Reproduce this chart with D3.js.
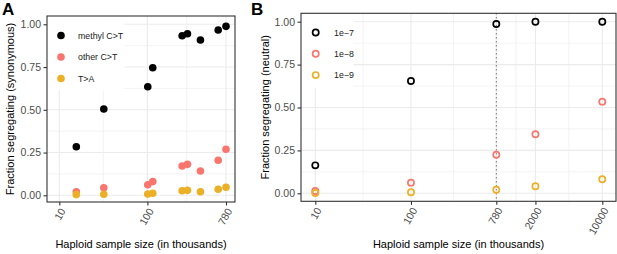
<!DOCTYPE html>
<html>
<head>
<meta charset="utf-8">
<script src="https://cdn.jsdelivr.net/npm/d3@7"></script>
<style>
  body { margin: 0; background: #fff; }
  svg { font-family: "Liberation Sans", Arial, sans-serif; }
</style>
</head>
<body>
<div id="chart"></div>
<script>
// panel A: synonymous sites in gnomAD-like sample sizes
const sizesA = [15.6, 32, 101, 115, 248, 285, 400, 636, 780]
const methylCT = [0.284, 0.505, 0.635, 0.746, 0.933, 0.945, 0.908, 0.967, 0.988]
const otherCT = [0.021, 0.044, 0.062, 0.080, 0.171, 0.181, 0.142, 0.205, 0.269]
const tToA = [0.004, 0.006, 0.008, 0.012, 0.027, 0.029, 0.021, 0.035, 0.047]
const seriesA = ["methyl C>T", "other C>T", "T>A"]
const xTicksA = [10, 100, 780]

// panel B: neutral simulations by mutation rate
const sizesB = [10, 100, 780, 2000, 10000]
const mu1e7 = [0.163, 0.654, 0.987, 1.0, 1.0]
const mu1e8 = [0.013, 0.062, 0.225, 0.344, 0.534]
const mu1e9 = [0.002, 0.006, 0.021, 0.041, 0.082]
const seriesB = ["1e\u22127", "1e\u22128", "1e\u22129"]
const xTicksB = [10, 100, 780, 2000, 10000]

const yTicks = [0, 0.25, 0.5, 0.75, 1]
const colors = ["#000000", "#F8766D", "#EBB026"]

const svg = d3.select("#chart").append("svg")
  .attr("width", 617)
  .attr("height", 254)

function midLog(a, b) { return Math.sqrt(a * b) }

function drawPanel(opt) {
  const p = opt.panel
  const g = svg.append("g")

  x = d3.scaleLog().domain(opt.xDomain).range(opt.xRange)
  y = d3.scaleLinear().domain([0, 1]).range(opt.yRange)

  // panel background + grid
  g.append("rect")
    .attr("x", p.left).attr("y", p.top)
    .attr("width", p.right - p.left).attr("height", p.bottom - p.top)
    .attr("fill", "#fff")

  const minorX = d3.pairs(opt.xTicks).map(d => midLog(d[0], d[1]))
  const minorY = d3.pairs(yTicks).map(d => (d[0] + d[1]) / 2)

  g.selectAll(".minx").data(minorX).enter().append("line")
    .attr("x1", d => x(d)).attr("x2", d => x(d))
    .attr("y1", p.top).attr("y2", p.bottom)
    .attr("stroke", "#EBEBEB").attr("stroke-width", 0.6)
  g.selectAll(".miny").data(minorY).enter().append("line")
    .attr("x1", p.left).attr("x2", p.right)
    .attr("y1", d => y(d)).attr("y2", d => y(d))
    .attr("stroke", "#EBEBEB").attr("stroke-width", 0.6)
  g.selectAll(".majx").data(opt.xTicks).enter().append("line")
    .attr("x1", d => x(d)).attr("x2", d => x(d))
    .attr("y1", p.top).attr("y2", p.bottom)
    .attr("stroke", "#EBEBEB").attr("stroke-width", 1.1)
  g.selectAll(".majy").data(yTicks).enter().append("line")
    .attr("x1", p.left).attr("x2", p.right)
    .attr("y1", d => y(d)).attr("y2", d => y(d))
    .attr("stroke", "#EBEBEB").attr("stroke-width", 1.1)

  if (opt.vline) {
    g.append("line")
      .attr("x1", x(opt.vline)).attr("x2", x(opt.vline))
      .attr("y1", p.top).attr("y2", p.bottom)
      .attr("stroke", "#444").attr("stroke-width", 1)
      .attr("stroke-dasharray", "1,3")
  }

  // legend box sits over the grid
  const lg = opt.legend
  g.append("rect")
    .attr("x", p.left + 0.5).attr("y", p.top + 0.5)
    .attr("width", lg.w).attr("height", lg.h)
    .attr("fill", "#fff")

  // points
  opt.series.forEach((vals, i) => {
    const pts = g.append("g").selectAll("circle")
      .data(vals.map((v, j) => ({x: opt.sizes[j], y: v})))
      .enter().append("circle")
      .attr("cx", d => x(d.x))
      .attr("cy", d => y(d.y))
    if (opt.hollow) {
      pts.attr("r", 3.1).attr("fill", "none")
        .attr("stroke", colors[i]).attr("stroke-width", 1.7)
    } else {
      pts.attr("r", 3.8).attr("fill", colors[i])
    }
  })

  // legend entries
  opt.names.forEach((name, i) => {
    const ly = lg.y0 + i * lg.step
    const c = g.append("circle").attr("cx", lg.kx).attr("cy", ly)
    if (opt.hollow) {
      c.attr("r", 3.1).attr("fill", "none")
        .attr("stroke", colors[i]).attr("stroke-width", 1.7)
    } else {
      c.attr("r", 3.8).attr("fill", colors[i])
    }
    g.append("text")
      .attr("x", lg.tx).attr("y", ly)
      .attr("dy", "0.35em")
      .attr("font-size", "8.8px")
      .attr("fill", "#1a1a1a")
      .text(name)
  })

  // border
  g.append("rect")
    .attr("x", p.left).attr("y", p.top)
    .attr("width", p.right - p.left).attr("height", p.bottom - p.top)
    .attr("fill", "none").attr("stroke", "#333").attr("stroke-width", 1.1)

  // y axis
  const ya = g.append("g")
    .attr("transform", `translate(${p.left},0)`)
    .call(d3.axisLeft(y).tickValues(yTicks).tickFormat(d3.format(".2f"))
      .tickSize(3.5).tickPadding(2.5))
  ya.select(".domain").remove()
  ya.selectAll("line").attr("stroke", "#333").attr("stroke-width", 1.1)
  ya.selectAll("text").attr("fill", "#4D4D4D")
    .attr("font-size", "10.5px").attr("font-family", null)

  // x axis with slanted labels
  const xa = g.append("g")
    .attr("transform", `translate(0,${p.bottom})`)
    .call(d3.axisBottom(x).tickValues(opt.xTicks).tickFormat(d3.format("d"))
      .tickSize(3.5))
  xa.select(".domain").remove()
  xa.selectAll("line").attr("stroke", "#333").attr("stroke-width", 1.1)
  xa.selectAll("text")
    .attr("fill", "#4D4D4D")
    .attr("font-size", "10.5px").attr("font-family", null)
    .attr("text-anchor", "end")
    .attr("x", 0).attr("y", 0).attr("dy", "0.35em")
    .attr("transform", "translate(3,7) rotate(-60)")

  // titles
  g.append("text")
    .attr("x", (p.left + p.right) / 2).attr("y", 248)
    .attr("text-anchor", "middle")
    .attr("font-size", "11px")
    .text("Haploid sample size (in thousands)")
  g.append("text")
    .attr("transform", `translate(${opt.yTitleX},${(p.top + p.bottom) / 2}) rotate(-90)`)
    .attr("text-anchor", "middle")
    .attr("font-size", "11px")
    .text(opt.yTitle)
  g.append("text")
    .attr("x", opt.tag.x).attr("y", opt.tag.y)
    .attr("font-size", "17px").attr("font-weight", "bold")
    .text(opt.tag.t)
}

drawPanel({
  panel: {left: 47, right: 235, top: 16, bottom: 202},
  xDomain: [10, 780], xRange: [59.3, 226],
  yRange: [195.3, 24.3],
  xTicks: xTicksA,
  sizes: sizesA,
  series: [methylCT, otherCT, tToA],
  names: seriesA,
  hollow: false,
  legend: {w: 77, h: 74, kx: 61, tx: 78, y0: 35.5, step: 21.5},
  yTitle: "Fraction segregating (synonymous)",
  yTitleX: 14,
  tag: {x: 2, y: 15, t: "A"}
})

drawPanel({
  panel: {left: 301, right: 616, top: 13.3, bottom: 201.3},
  xDomain: [10, 10000], xRange: [315.3, 602.3],
  yRange: [193.3, 21.7],
  xTicks: xTicksB,
  sizes: sizesB,
  series: [mu1e7, mu1e8, mu1e9],
  names: seriesB,
  hollow: true,
  vline: 780,
  legend: {w: 52, h: 74, kx: 315.7, tx: 334, y0: 32.5, step: 21.3},
  yTitle: "Fraction segregating (neutral)",
  yTitleX: 269,
  tag: {x: 251, y: 15, t: "B"}
})
</script>
</body>
</html>
